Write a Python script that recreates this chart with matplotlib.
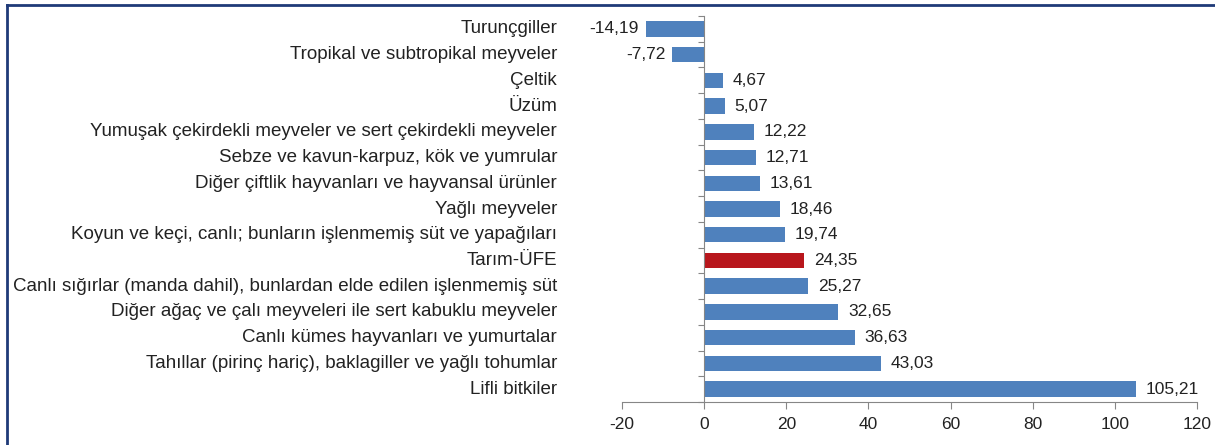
import matplotlib
matplotlib.use("Agg")
import matplotlib.pyplot as plt
from matplotlib.transforms import blended_transform_factory
from matplotlib.lines import Line2D
import numpy as np

plt.rcParams['font.family'] = ['Liberation Sans', 'DejaVu Sans']

categories = [
    "Turunçgiller",
    "Tropikal ve subtropikal meyveler",
    "Çeltik",
    "Üzüm",
    "Yumuşak çekirdekli meyveler ve sert çekirdekli meyveler",
    "Sebze ve kavun-karpuz, kök ve yumrular",
    "Diğer çiftlik hayvanları ve hayvansal ürünler",
    "Yağlı meyveler",
    "Koyun ve keçi, canlı; bunların işlenmemiş süt ve yapağıları",
    "Tarım-ÜFE",
    "Canlı sığırlar (manda dahil), bunlardan elde edilen işlenmemiş süt",
    "Diğer ağaç ve çalı meyveleri ile sert kabuklu meyveler",
    "Canlı kümes hayvanları ve yumurtalar",
    "Tahıllar (pirinç hariç), baklagiller ve yağlı tohumlar",
    "Lifli bitkiler",
]
values = [-14.19, -7.72, 4.67, 5.07, 12.22, 12.71, 13.61, 18.46, 19.74,
          24.35, 25.27, 32.65, 36.63, 43.03, 105.21]
highlight = "Tarım-ÜFE"
xticks = [-20, 0, 20, 40, 60, 80, 100, 120]

W, H = 1215, 445
fig = plt.figure(figsize=(W / 100, H / 100), dpi=100)
ax = fig.add_axes([622 / W, 1 - 402 / H, 575 / W, 386 / H])

n = len(categories)
y = np.arange(n)
colors = ['#B8161C' if c == highlight else '#4F81BD' for c in categories]
ax.barh(y, values, height=0.6, color=colors, zorder=2)

ax.set_xlim(-20, 120)
ax.set_ylim(n - 0.5, -0.5)
ax.set_xticks(xticks)
ax.set_xticklabels([str(t) for t in xticks], fontsize=12.5, color='#222222')
ax.tick_params(axis='x', direction='out', length=5, color='#868686', pad=6)

for s in ['top', 'right']:
    ax.spines[s].set_visible(False)
ax.spines['left'].set_position(('data', 0))
ax.spines['left'].set_color('#868686')
ax.spines['bottom'].set_color('#868686')

ax.set_yticks(np.arange(-0.5, n, 1.0))
ax.set_yticklabels([])
ax.tick_params(axis='y', direction='out', length=4, color='#868686')

trans = blended_transform_factory(ax.transAxes, ax.transData)
for i, c in enumerate(categories):
    ax.text(-0.113, i, c, transform=trans, ha='right', va='center',
            fontsize=13.5, color='#222222')

for i, v in enumerate(values):
    lab = f"{v:.2f}".replace('.', ',')
    if v >= 0:
        ax.annotate(lab, (v, i), xytext=(7, 0), textcoords='offset points',
                    ha='left', va='center', fontsize=12.5, color='#222222')
    else:
        ax.annotate(lab, (v, i), xytext=(-5, 0), textcoords='offset points',
                    ha='right', va='center', fontsize=12.5, color='#222222')

# frame (top and left visible)
fig.add_artist(Line2D([7 / W, 1.0], [1 - 5 / H, 1 - 5 / H], transform=fig.transFigure,
                      color='#1F3A78', linewidth=2))
fig.add_artist(Line2D([7 / W, 7 / W], [0, 1 - 5 / H], transform=fig.transFigure,
                      color='#1F3A78', linewidth=2))

fig.savefig('out.png', dpi=100)
